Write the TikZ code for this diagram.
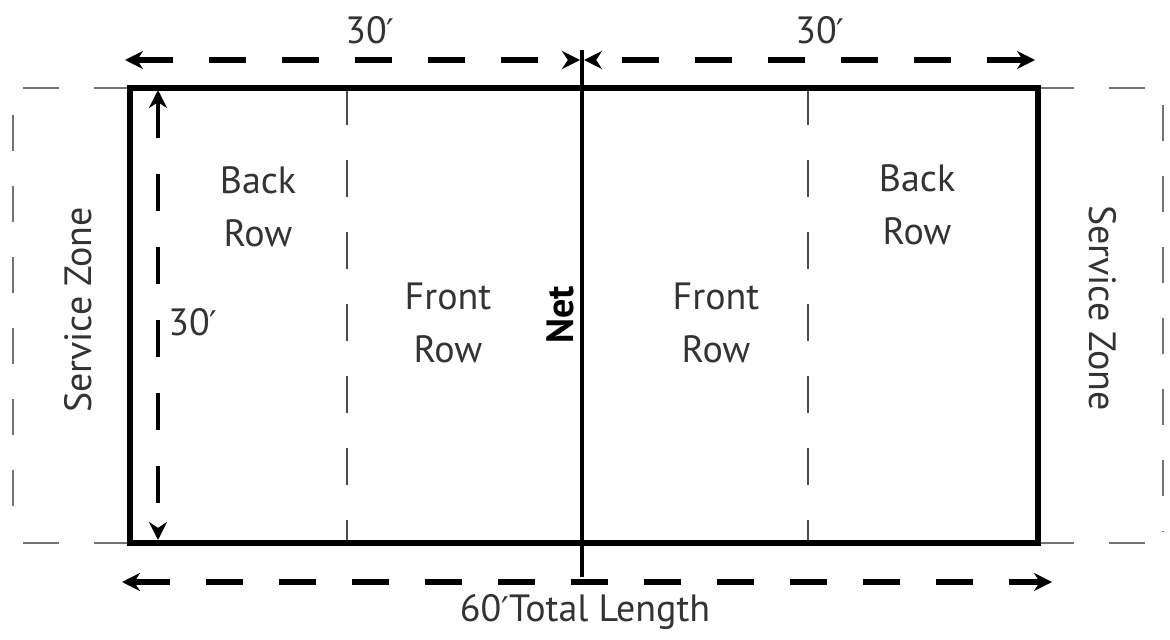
\documentclass[tikz,border=0pt]{standalone}
\usepackage{fontspec}
\setmainfont{PT Sans}
\newfontfamily\primefont{DejaVu Sans}
\newcommand{\feet}{{\primefont\fontsize{17}{17}\selectfont ′}}
\usetikzlibrary{arrows.meta}

\begin{document}
\begin{tikzpicture}[x=0.5pt, y=-0.5pt,
        court_style/.style={draw=black, line width=2.6pt},
        net_style/.style={draw=black, line width=2.4pt},
        row_style/.style={draw=black!70, line width=1.2pt, dash pattern=on 18.5pt off 17.5pt},
        zone_style/.style={draw=black!55, line width=1.1pt, dash pattern=on 18pt off 17.5pt},
        dim_style/.style={draw=black, line width=2.6pt, dash pattern=on 18.5pt off 18pt,
            {Stealth[length=9pt,width=9pt]}-{Stealth[length=9pt,width=9pt]}},
        label_style/.style={text=black!80, font=\fontsize{19}{26.5}\selectfont, align=center, inner sep=0pt}]

        \useasboundingbox (0,0) rectangle (1170,640);

        % court corners and net ends
        \coordinate (nw) at (130,88);
        \coordinate (ne) at (1038,88);
        \coordinate (sw) at (130,543);
        \coordinate (se) at (1038,543);
        \coordinate (net_top) at (582,50);
        \coordinate (net_bot) at (582,577);
        \coordinate (row_lt) at (347,88);
        \coordinate (row_lb) at (347,543);
        \coordinate (row_rt) at (808,88);
        \coordinate (row_rb) at (808,543);

        % service zone edges
        \coordinate (zone_lt) at (20,88);
        \coordinate (zone_lb) at (20,543);
        \coordinate (zone_rt) at (1170,88);
        \coordinate (zone_rb) at (1170,543);
        \coordinate (zone_l1) at (13,115);
        \coordinate (zone_l2) at (13,520);
        \coordinate (zone_r1) at (1163,105);
        \coordinate (zone_r2) at (1163,532);

        % dimension ends
        \coordinate (dim_tl) at (125,60);
        \coordinate (dim_tm1) at (580,60);
        \coordinate (dim_tm2) at (584,60);
        \coordinate (dim_tr) at (1035,60);
        \coordinate (dim_bl) at (122,582);
        \coordinate (dim_br) at (1052,582);
        \coordinate (dim_vt) at (158,90);
        \coordinate (dim_vb) at (158,540);

        \draw [zone_style] (nw) -- (zone_lt);
        \draw [zone_style] (sw) -- (zone_lb);
        \draw [zone_style] (ne) -- (zone_rt);
        \draw [zone_style] (se) -- (zone_rb);
        \draw [zone_style] (zone_l1) -- (zone_l2);
        \draw [zone_style] (zone_r1) -- (zone_r2);

        \draw [row_style] (row_lt) -- (row_lb);
        \draw [row_style] (row_rt) -- (row_rb);
        \draw [court_style] (nw) rectangle (se);
        \draw [net_style] (net_top) -- (net_bot);

        \draw [dim_style] (dim_tl) -- (dim_tm1);
        \draw [dim_style] (dim_tr) -- (dim_tm2);
        \draw [dim_style] (dim_bl) -- (dim_br);
        \draw [dim_style, line width=2.2pt] (dim_vt) -- (dim_vb);

        \node [label_style] (len_left) at (370,30) {30\feet};
        \node [label_style] (len_right) at (820,30) {30\feet};
        \node [label_style, anchor=west] (len_width) at (168,322) {30\feet};
        \node [label_style] (len_total) at (585,612) {60\feet Total Length};

        \node [label_style] (back_left) at (258,207) {Back\\Row};
        \node [label_style] (back_right) at (917,205) {Back\\Row};
        \node [label_style] (front_left) at (448,323) {Front\\Row};
        \node [label_style] (front_right) at (716,323) {Front\\Row};

        \node [label_style, rotate=90] (zone_left) at (78,310) {Service Zone};
        \node [label_style, rotate=-90] (zone_right) at (1103,308) {Service Zone};
        \node [label_style, rotate=90, font=\fontsize{19}{26.5}\selectfont\bfseries, text=black] (net) at (560,315) {Net};
\end{tikzpicture}
\end{document}
